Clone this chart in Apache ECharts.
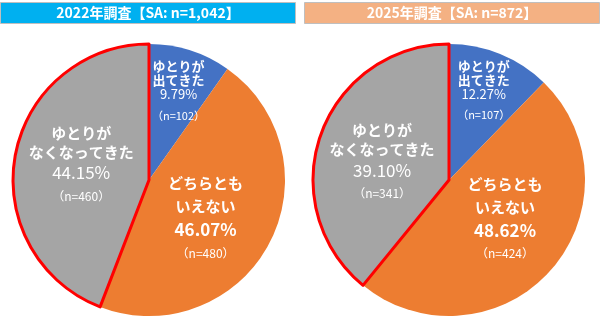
<!DOCTYPE html>
<html>
<head>
<meta charset="utf-8">
<script src="https://cdn.jsdelivr.net/npm/echarts@6/dist/echarts.min.js"></script>
<style>html,body{margin:0;padding:0;background:#fff}#c{width:600px;height:325px}</style>
</head>
<body>
<div id="c"></div>
<script>
var categories = ['ゆとりが出てきた', 'どちらともいえない', 'ゆとりがなくなってきた'];
var labelLines = [['ゆとりが', '出てきた'], ['どちらとも', 'いえない'], ['ゆとりが', 'なくなってきた']];
var pct2022 = [9.79, 46.07, 44.15];
var n2022 = [102, 480, 460];
var pct2025 = [12.27, 48.62, 39.10];
var n2025 = [107, 424, 341];
var titles = ['2022年調査【SA: n=1,042】', '2025年調査【SA: n=872】'];

var colors = ['#4472C4', '#ED7D31', '#A5A5A5'];
var FONT = '"Noto Sans CJK JP", "Noto Sans", sans-serif';

function richFor(i) {
  if (i === 0) {
    return {
      t: {fontSize: 13, fontWeight: 'bold', color: '#fff', lineHeight: 14, fontFamily: FONT},
      p: {fontSize: 13, fontWeight: 'normal', color: '#fff', lineHeight: 14, fontFamily: FONT},
      n: {fontSize: 11, color: '#fff', lineHeight: 28, fontFamily: FONT}
    };
  }
  return {
    t: {fontSize: 15, fontWeight: 'bold', color: '#fff', lineHeight: i === 1 ? 23 : 19, fontFamily: FONT},
    p: {fontSize: 17, fontWeight: i === 1 ? 'bold' : 'normal', color: '#fff', lineHeight: 23, fontFamily: FONT},
    n: {fontSize: 12, color: '#fff', lineHeight: 24, fontFamily: FONT}
  };
}

function buildData(pcts, ns) {
  return pcts.map(function (v, i) {
    var item = {
      name: categories[i],
      value: v,
      itemStyle: {color: colors[i]},
      label: {
        show: true,
        position: 'inside',
        formatter: '{t|' + labelLines[i][0] + '}\n{t|' + labelLines[i][1] + '}\n{p|' + v.toFixed(2) + '%}\n{n|（n=' + ns[i] + '）}',
        rich: richFor(i)
      }
    };
    if (i === 2) {
      item.itemStyle.borderColor = '#FF0000';
      item.itemStyle.borderWidth = 3;
    }
    return item;
  });
}

var shift2022 = [[8, -18], [-6, 5], [2, -1]];
var shift2025 = [[8, -20], [3, -8], [0, 7]];

function makeSeries(pcts, ns, cx, shifts) {
  return {
    type: 'pie',
    center: [cx, 180],
    radius: 136,
    startAngle: 90,
    clockwise: true,
    silent: true,
    animation: false,
    labelLine: {show: false},
    emphasis: {disabled: true},
    data: buildData(pcts, ns),
    labelLayout: function (p) {
      var s = shifts[p.dataIndex];
      return {dx: s[0], dy: s[1]};
    }
  };
}

var chart = echarts.init(document.getElementById('c'), null, {renderer: 'canvas'});
chart.setOption({
  backgroundColor: '#ffffff',
  animation: false,
  graphic: [
    {type: 'rect', shape: {x: 0.5, y: 2.5, width: 295, height: 21}, style: {fill: '#00B0F0', stroke: '#BFBFBF', lineWidth: 1}},
    {type: 'text', x: 148, y: 13, style: {text: titles[0], fill: '#fff', font: 'bold 14px ' + FONT, align: 'center', verticalAlign: 'middle'}},
    {type: 'rect', shape: {x: 304.5, y: 2.5, width: 295, height: 21}, style: {fill: '#F4B183', stroke: '#BFBFBF', lineWidth: 1}},
    {type: 'text', x: 452, y: 13, style: {text: titles[1], fill: '#fff', font: 'bold 14px ' + FONT, align: 'center', verticalAlign: 'middle'}}
  ],
  series: [
    makeSeries(pct2022, n2022, 149, shift2022),
    makeSeries(pct2025, n2025, 449, shift2025)
  ]
});
</script>
</body>
</html>
